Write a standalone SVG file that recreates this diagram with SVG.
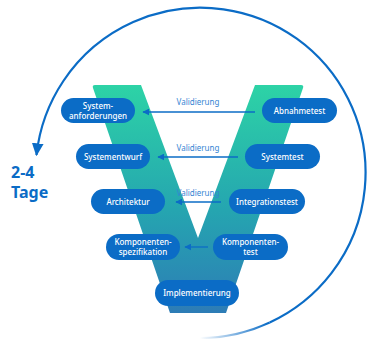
<svg xmlns="http://www.w3.org/2000/svg" width="367" height="339" viewBox="0 0 367 339">
<style>
.node rect{fill:#0b6cc6}
.node text{fill:#fff;font-family:"Noto Sans","Liberation Sans",sans-serif;font-size:8px;font-weight:500;text-anchor:middle}
.lbl{fill:#3585d3;font-family:"Noto Sans","Liberation Sans",sans-serif;font-size:8px;text-anchor:middle}
.conn{stroke:#0b6cc6;stroke-width:1.3;fill:none}
.big{fill:#0b6cc6;font-family:"Noto Sans","Liberation Sans",sans-serif;font-size:16px;font-weight:bold}
</style>
<defs>
<linearGradient id="vg" x1="0" y1="85" x2="0" y2="313" gradientUnits="userSpaceOnUse">
<stop offset="0" stop-color="#2dd3a6"/>
<stop offset="0.55" stop-color="#25a5b0"/>
<stop offset="1" stop-color="#2d7cb6"/>
</linearGradient>
<linearGradient id="fade" x1="200" y1="0" x2="268" y2="0" gradientUnits="userSpaceOnUse">
<stop offset="0" stop-color="#0b6cc6" stop-opacity="0"/>
<stop offset="1" stop-color="#0b6cc6"/>
</linearGradient>
<marker id="ah" viewBox="0 0 10 10" refX="9" refY="5" markerWidth="7" markerHeight="7" markerUnits="userSpaceOnUse" orient="auto">
<path d="M0,0 L10,5 L0,10 z" fill="#0b6cc6"/>
</marker>
<marker id="big" viewBox="0 0 10 10" refX="9" refY="5" markerWidth="13" markerHeight="13" markerUnits="userSpaceOnUse" orient="auto">
<path d="M0,0.5 L10,5 L0,9.5 z" fill="#0b6cc6"/>
</marker>
</defs>
<g id="cycle">
<path d="M200,338 A165,165 0 0 0 269.7,322.5" stroke="url(#fade)" stroke-width="2.2" fill="none"/>
<path d="M269.7,322.5 A165,165 0 1 0 36.5,155" stroke="#0b6cc6" stroke-width="2.2" fill="none" marker-end="url(#big)"/>
<text class="big" x="11" y="178">2-4</text>
<text class="big" x="11" y="198">Tage</text>
</g>
<g id="v-shape">
<path d="M95,85 L141,85 L198,238 L255,85 L301,85 Q304,85 303,88 L226,313 L170,313 L93,88 Q92,85 95,85 Z" fill="url(#vg)"/>
</g>
<g id="connectors">
<line class="conn" x1="255" y1="112" x2="143" y2="112" marker-end="url(#ah)"/>
<text class="lbl" x="198" y="105">Validierung</text>
<line class="conn" x1="238" y1="157" x2="158" y2="157" marker-end="url(#ah)"/>
<text class="lbl" x="198" y="151">Validierung</text>
<line class="conn" x1="221" y1="202" x2="176" y2="202" marker-end="url(#ah)"/>
<text class="lbl" x="198" y="196">Validierung</text>
<line class="conn" x1="208" y1="247" x2="185" y2="247" marker-end="url(#ah)"/>
</g>
<g id="systemanforderungen" class="node"><rect x="61" y="98" width="74" height="25" rx="12.5"/><text x="98" y="108.5">System-</text><text x="98" y="118.5">anforderungen</text></g>
<g id="abnahmetest" class="node"><rect x="262" y="98" width="75" height="25" rx="12.5"/><text x="299.5" y="113.5">Abnahmetest</text></g>
<g id="systementwurf" class="node"><rect x="76" y="144" width="74" height="25" rx="12.5"/><text x="113" y="159.5">Systementwurf</text></g>
<g id="systemtest" class="node"><rect x="245" y="144" width="75" height="25" rx="12.5"/><text x="282.5" y="159.5">Systemtest</text></g>
<g id="architektur" class="node"><rect x="91" y="189" width="74" height="25" rx="12.5"/><text x="128" y="204.5">Architektur</text></g>
<g id="integrationstest" class="node"><rect x="229" y="189" width="76" height="25" rx="12.5"/><text x="267" y="204.5">Integrationstest</text></g>
<g id="komponentenspezifikation" class="node"><rect x="106" y="234" width="74" height="26" rx="13"/><text x="143" y="245">Komponenten-</text><text x="143" y="255">spezifikation</text></g>
<g id="komponententest" class="node"><rect x="213" y="234" width="75" height="26" rx="13"/><text x="250.5" y="245">Komponenten-</text><text x="250.5" y="255">test</text></g>
<g id="implementierung" class="node"><rect x="155" y="280" width="84" height="26" rx="13"/><text x="197" y="296">Implementierung</text></g>
</svg>
